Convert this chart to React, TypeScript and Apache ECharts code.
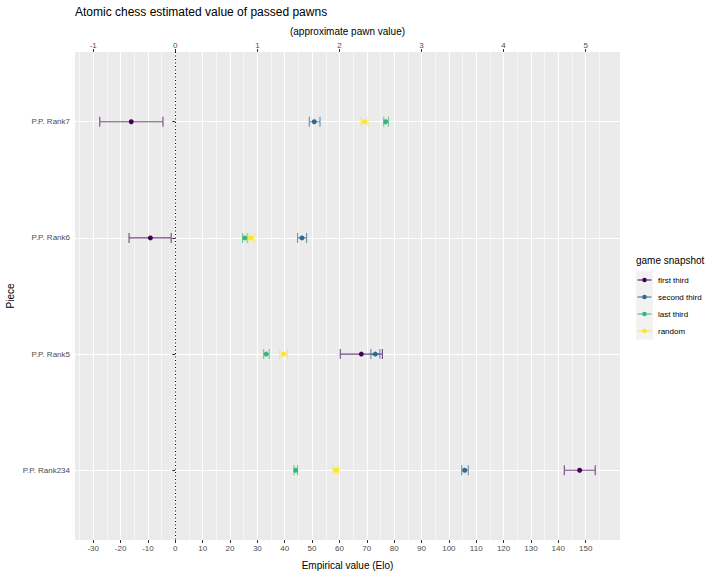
import React, { useEffect, useRef } from "react";
import * as echarts from "echarts";

// ---------- data ----------
const pieces = ["P.P. Rank7", "P.P. Rank6", "P.P. Rank5", "P.P. Rank234"];
const snapshots = ["first third", "second third", "last third", "random"];
const snapshotColors = ["#440154", "#31688E", "#35B779", "#FDE725"];

// estimates (Elo) per snapshot, in the order of `pieces`
const firstThirdEst = [-16.1, -9.1, 68.0, 147.8];
const firstThirdLow = [-27.6, -16.9, 60.3, 142.2];
const firstThirdHigh = [-4.5, -1.5, 75.7, 153.5];

const secondThirdEst = [50.8, 46.3, 73.1, 105.8];
const secondThirdLow = [49.0, 44.7, 71.5, 104.7];
const secondThirdHigh = [52.9, 48.0, 74.8, 107.1];

const lastThirdEst = [76.9, 25.4, 33.2, 44.0];
const lastThirdLow = [76.2, 24.6, 32.3, 43.4];
const lastThirdHigh = [77.9, 26.3, 34.3, 44.7];

const randomEst = [69.2, 27.5, 39.6, 58.7];
const randomLow = [67.9, 26.6, 38.2, 57.7];
const randomHigh = [70.4, 28.8, 41.0, 59.7];

const eloTicks = [-30, -20, -10, 0, 10, 20, 30, 40, 50, 60, 70, 80, 90, 100, 110, 120, 130, 140, 150];
const eloMinorTicks = [-35, -25, -15, -5, 5, 15, 25, 35, 45, 55, 65, 75, 85, 95, 105, 115, 125, 135, 145, 155];
const pawnTicks = [-1, 0, 1, 2, 3, 4, 5];
const eloPerPawn = 30;

const estimates = [firstThirdEst, secondThirdEst, lastThirdEst, randomEst];
const lows = [firstThirdLow, secondThirdLow, lastThirdLow, randomLow];
const highs = [firstThirdHigh, secondThirdHigh, lastThirdHigh, randomHigh];

function hexToRgba(hex: string, a: number) {
  const n = parseInt(hex.slice(1), 16);
  return `rgba(${(n >> 16) & 255},${(n >> 8) & 255},${n & 255},${a})`;
}

export default function App() {
  const ref = useRef<HTMLDivElement>(null);
  useEffect(() => {
    if (!ref.current) return;
    const chart = echarts.init(ref.current, undefined, { renderer: "svg" });

    const allLow = Math.min(...lows.flat());
    const allHigh = Math.max(...highs.flat());
    const span = allHigh - allLow;
    const xMin = allLow - 0.05 * span;
    const xMax = allHigh + 0.05 * span;
    const catIdx = pieces.map((_, i) => i + 1);

    const font = "'Liberation Sans', Arial, Helvetica, sans-serif";
    const tickColor = "#333333";
    const labelColor = "#4D4D4D";

    const iconPath =
      "path://M0,0 L0.01,0 L0,0.01 Z M17,17 L16.99,17 L17,16.99 Z M1.5,7.95 L15.5,7.95 L15.5,9.05 L1.5,9.05 Z M6.2,8.5 A2.3,2.3 0 1 1 10.8,8.5 A2.3,2.3 0 1 1 6.2,8.5 Z";

    const series: any[] = [];
    snapshots.forEach((name, s) => {
      const color = snapshotColors[s];
      series.push({
        type: "custom",
        name,
        xAxisIndex: 0,
        yAxisIndex: 0,
        encode: { x: [0, 1], y: 2 },
        data: pieces.map((_, i) => [lows[s][i], highs[s][i], catIdx[i]]),
        renderItem: (_params: any, api: any) => {
          const lo = api.coord([api.value(0), api.value(2)]);
          const hi = api.coord([api.value(1), api.value(2)]);
          const h = 5;
          const style = { stroke: hexToRgba(color, 0.7), lineWidth: 1.1, fill: "none" };
          return {
            type: "polyline",
            shape: {
              points: [
                [lo[0], lo[1] - h],
                [lo[0], lo[1] + h],
                [lo[0], lo[1]],
                [hi[0], hi[1]],
                [hi[0], hi[1] - h],
                [hi[0], hi[1] + h],
              ],
            },
            style,
          };
        },
        z: 2,
      });
      series.push({
        type: "scatter",
        name,
        xAxisIndex: 0,
        yAxisIndex: 0,
        symbol: "circle",
        symbolSize: 5,
        itemStyle: { color, opacity: 1 },
        data: pieces.map((_, i) => [estimates[s][i], catIdx[i]]),
        z: 3,
        ...(s === 0
          ? {
              markLine: {
                silent: true,
                symbol: ["none", "none"],
                label: { show: false },
                lineStyle: { color: "#000000", type: [1, 2.5], width: 1, opacity: 1 },
                data: [{ xAxis: 0 }],
              },
            }
          : {}),
      });
    });

    const option: any = {
      animation: false,
      textStyle: { fontFamily: font },
      title: [
        {
          text: "Atomic chess estimated value of passed pawns",
          left: 75,
          top: 6,
          padding: 0,
          textStyle: { fontSize: 12, fontWeight: "normal", color: "#000000", fontFamily: font },
        },
        {
          text: "game snapshot",
          left: 636,
          top: 255,
          padding: 0,
          textStyle: { fontSize: 10, fontWeight: "normal", color: "#000000", fontFamily: font },
        },
      ],
      grid: {
        left: 75,
        top: 52,
        width: 545,
        height: 488,
        show: true,
        backgroundColor: "#EBEBEB",
        borderWidth: 0,
        containLabel: false,
        outerBoundsMode: "none",
      },
      legend: {
        orient: "vertical",
        left: 636,
        top: 271.5,
        padding: 0,
        itemGap: 0,
        itemWidth: 17,
        itemHeight: 17,
        selectedMode: false,
        textStyle: { fontSize: 8, color: "#000000", fontFamily: font },
        data: snapshots.map((name, i) => ({
          name,
          icon: iconPath,
          itemStyle: { color: snapshotColors[i], opacity: 1 },
        })),
      },
      graphic: [
        {
          type: "rect",
          left: 636,
          top: 271.5,
          z: 0,
          shape: { width: 17, height: 17 * snapshots.length },
          style: { fill: "#F2F2F2" },
        },
      ],
      xAxis: [
        {
          type: "value",
          position: "bottom",
          min: xMin,
          max: xMax,
          name: "Empirical value (Elo)",
          nameLocation: "middle",
          nameGap: 20,
          nameMoveOverlap: false,
          nameTextStyle: { fontSize: 10, color: "#000000", fontFamily: font },
          axisLine: { show: false },
          axisTick: { show: true, length: 3, customValues: eloTicks, lineStyle: { color: tickColor, width: 1 } },
          axisLabel: { show: true, customValues: eloTicks, fontSize: 8, color: labelColor, margin: 4, fontFamily: font },
          splitLine: { show: true, lineStyle: { color: "#FFFFFF", width: 1.1 } },
        },
        {
          type: "value",
          position: "bottom",
          min: xMin,
          max: xMax,
          axisLine: { show: false },
          axisTick: { show: false, customValues: eloMinorTicks },
          axisLabel: { show: false, customValues: eloMinorTicks },
          splitLine: { show: true, lineStyle: { color: "#FFFFFF", width: 0.55 } },
          z: 0,
        },
        {
          type: "value",
          position: "top",
          min: xMin,
          max: xMax,
          name: "(approximate pawn value)",
          nameLocation: "middle",
          nameGap: 16,
          nameMoveOverlap: false,
          nameTextStyle: { fontSize: 10, color: "#000000", fontFamily: font },
          axisLine: { show: false },
          axisTick: {
            show: true,
            length: 3,
            customValues: pawnTicks.map((p) => p * eloPerPawn),
            lineStyle: { color: tickColor, width: 1 },
          },
          axisLabel: {
            show: true,
            customValues: pawnTicks.map((p) => p * eloPerPawn),
            formatter: (v: number) => String(Math.round(v / eloPerPawn)),
            fontSize: 8,
            color: labelColor,
            margin: 3,
            fontFamily: font,
          },
          splitLine: { show: false },
        },
      ],
      yAxis: {
        type: "value",
        inverse: true,
        min: 0.4,
        max: pieces.length + 0.6,
        name: "Piece",
        nameLocation: "middle",
        nameGap: 60,
        nameMoveOverlap: false,
        nameTextStyle: { fontSize: 10, color: "#000000", fontFamily: font },
        axisLine: { show: false },
        axisTick: { show: true, length: 3, customValues: catIdx, lineStyle: { color: tickColor, width: 1 } },
        axisLabel: {
          show: true,
          customValues: catIdx,
          formatter: (v: number) => pieces[Math.round(v) - 1] ?? "",
          fontSize: 8,
          color: labelColor,
          margin: 5,
          fontFamily: font,
        },
        splitLine: { show: true, lineStyle: { color: "#FFFFFF", width: 1.1 } },
      },
      series,
    };

    chart.setOption(option);
    return () => chart.dispose();
  }, []);

  return (
    <div
      ref={ref}
      style={{ width: 720, height: 576, position: "fixed", left: 0, top: 0, background: "#FFFFFF" }}
    />
  );
}
